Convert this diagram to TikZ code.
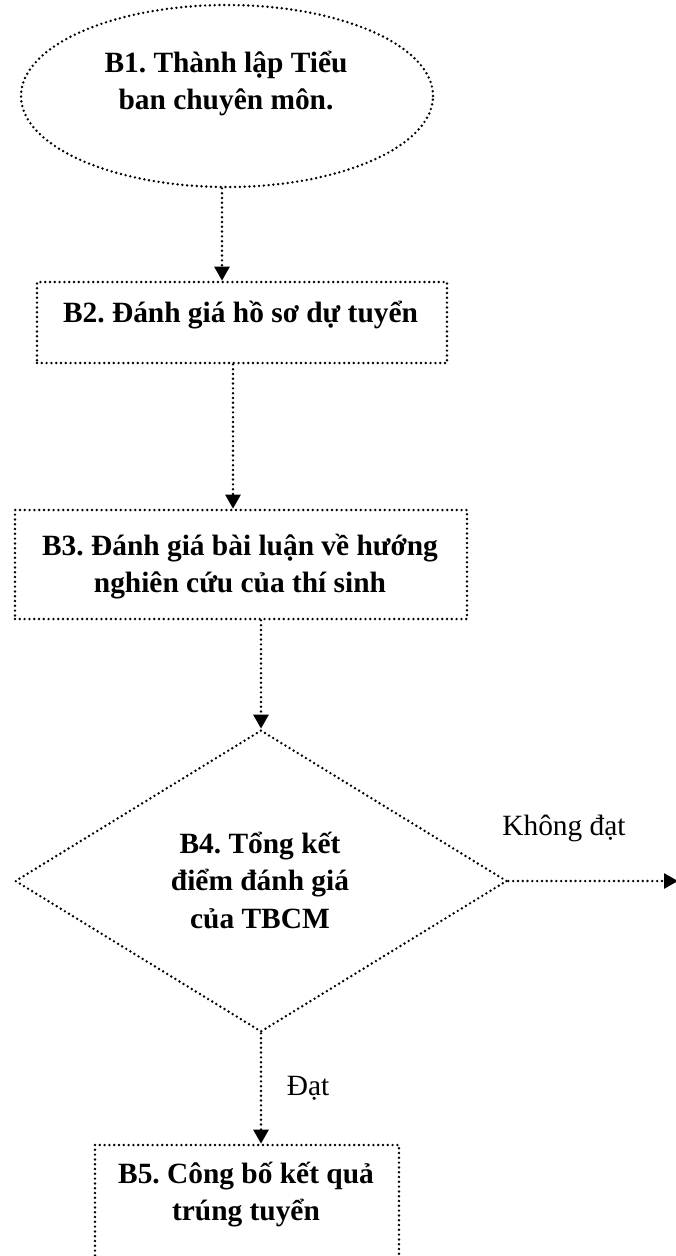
\documentclass[tikz,border=0pt]{standalone}
\usepackage{fontspec}
\setmainfont{Liberation Serif}
\usetikzlibrary{shapes.geometric,arrows.meta}
\frenchspacing
\newcommand\mlines[1]{\vtop{\baselineskip=37.5pt\lineskiplimit=-1000pt\lineskip=0pt\halign{\hfil##\hfil\cr#1\crcr}}}
\tikzset{
  dotline/.style={line width=2.7pt, line cap=round, dash pattern=on 0pt off 4.8pt},
  shapebox/.style={draw, dotline, inner sep=0pt, fill=none},
  arr/.style={dotline, -{Triangle[width=15pt,length=14pt]}},
  steptext/.style={anchor=base, inner sep=0pt, font=\fontsize{29.4pt}{37.5pt}\selectfont\bfseries},
  lbltext/.style={anchor=base, inner sep=0pt, font=\fontsize{29.4pt}{37.5pt}\selectfont}
}
\begin{document}
\begin{tikzpicture}[x=1pt,y=-1pt]
\useasboundingbox (0,0) rectangle (676,1256);
\clip (0,0) rectangle (676,1256);
% shapes
\node[shapebox, ellipse, minimum width=412pt, minimum height=182pt] (b1) at (227,96) {};
\node[shapebox, rectangle, minimum width=410pt, minimum height=81pt] (b2) at (242,322.5) {};
\node[shapebox, rectangle, minimum width=452pt, minimum height=109pt] (b3) at (241,564.5) {};
\node[shapebox, diamond, minimum width=492pt, minimum height=302pt] (b4) at (261,881) {};
\node[shapebox, rectangle, minimum width=304pt, minimum height=160pt] (b5) at (247,1225) {};
% texts
\node[steptext] (t1) at (226,72) {\mlines{B1. Thành lập Tiểu\cr ban chuyên môn.}};
\node[steptext] (t2) at (240.5,322) {B2. Đánh giá hồ sơ dự tuyển};
\node[steptext] (t3) at (240,555) {\mlines{B3. Đánh giá bài luận về hướng\cr nghiên cứu của thí sinh}};
\node[steptext] (t4) at (260,853) {\mlines{B4. Tổng kết\cr điểm đánh giá\cr của TBCM}};
\node[steptext] (t5) at (246,1183) {\mlines{B5. Công bố kết quả\cr trúng tuyển}};
\node[lbltext] (l1) at (564,835) {Không đạt};
\node[lbltext] (l2) at (308,1095) {Đạt};
% connectors
\coordinate (out) at (678,881);
\draw[arr] ([xshift=-5pt]b1.south) -- ([xshift=-5pt]b1.south |- b2.north);
\draw[arr] ([xshift=-9pt]b2.south) -- ([xshift=-9pt]b2.south |- b3.north);
\draw[arr] (b4.north |- b3.south) -- (b4.north);
\draw[arr] (b4.east) -- (out);
\draw[arr] (b4.south) -- (b4.south |- b5.north);
\end{tikzpicture}
\end{document}
